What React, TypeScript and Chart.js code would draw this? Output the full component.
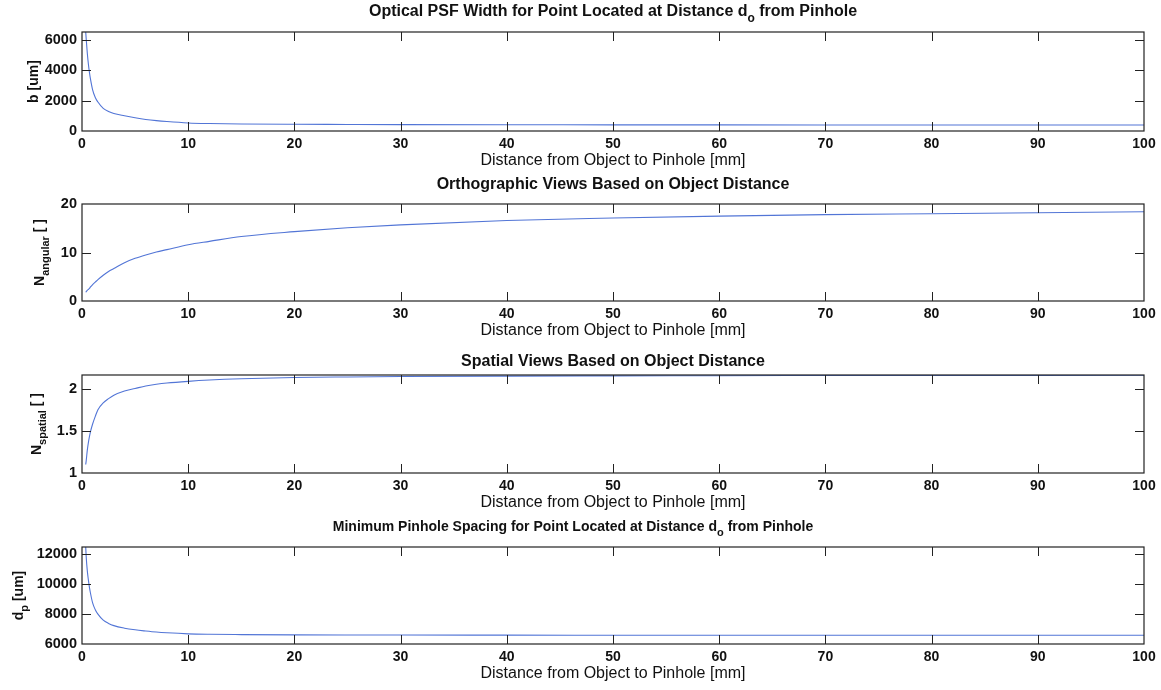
import React, { useEffect, useRef } from 'react';
import { Chart, registerables } from 'chart.js';
Chart.register(...registerables);

// ---- data ----
const distanceMm = [0.35, 0.4, 0.5, 0.6, 0.7, 0.8, 1, 1.25, 1.5, 2, 2.5, 3, 4, 5, 6, 7, 8, 10, 12, 15, 20, 25, 30, 40, 50, 60, 70, 80, 90, 100];
const psfWidthUm = [6500, 6000, 5100, 4400, 3850, 3400, 2700, 2200, 1900, 1480, 1280, 1150, 1000, 870, 760, 680, 620, 530, 490, 460, 440, 430, 420, 410, 405, 400, 398, 396, 394, 392];
const nAngular = [1.8, 1.95, 2.2, 2.4, 2.6, 2.9, 3.4, 3.9, 4.4, 5.3, 6.1, 6.7, 7.9, 8.8, 9.5, 10.1, 10.6, 11.6, 12.3, 13.3, 14.3, 15.1, 15.7, 16.6, 17.1, 17.5, 17.8, 18.0, 18.2, 18.4];
const nSpatial = [1.1, 1.15, 1.27, 1.36, 1.43, 1.49, 1.58, 1.67, 1.75, 1.83, 1.88, 1.92, 1.97, 2.0, 2.03, 2.05, 2.065, 2.085, 2.1, 2.115, 2.13, 2.137, 2.142, 2.147, 2.15, 2.152, 2.154, 2.155, 2.156, 2.157];
const pinholeSpacingUm = [12500, 11800, 10900, 10300, 9800, 9400, 8750, 8300, 8000, 7600, 7380, 7230, 7060, 6950, 6870, 6800, 6750, 6680, 6650, 6630, 6610, 6600, 6600, 6595, 6590, 6590, 6590, 6590, 6590, 6590];

const xTickValues = [0, 10, 20, 30, 40, 50, 60, 70, 80, 90, 100];
const psfTicks = [0, 2000, 4000, 6000];
const angularTicks = [0, 10, 20];
const spatialTicks = [1, 1.5, 2];
const spacingTicks = [6000, 8000, 10000, 12000];
const xLabel = 'Distance from Object to Pinhole [mm]';

type Seg = { t: string; sub?: boolean };

const titles: Seg[][] = [
  [{ t: 'Optical PSF Width for Point Located at Distance d' }, { t: 'o', sub: true }, { t: ' from Pinhole' }],
  [{ t: 'Orthographic Views Based on Object Distance' }],
  [{ t: 'Spatial Views Based on Object Distance' }],
  [{ t: 'Minimum Pinhole Spacing for Point Located at Distance d' }, { t: 'o', sub: true }, { t: ' from Pinhole' }],
];
const yLabels: Seg[][] = [
  [{ t: 'b [um]' }],
  [{ t: 'N' }, { t: 'angular', sub: true }, { t: ' [ ]' }],
  [{ t: 'N' }, { t: 'spatial', sub: true }, { t: ' [ ]' }],
  [{ t: 'd' }, { t: 'p', sub: true }, { t: ' [um]' }],
];
const seriesList = [psfWidthUm, nAngular, nSpatial, pinholeSpacingUm];
const yTickList = [psfTicks, angularTicks, spatialTicks, spacingTicks];
const yMins = [0, 0, 1, 6000];
const yMaxs = [6500, 20, 2.16, 12500];

// ---- layout ----
const W = 1161;
const plotLeft = 82;
const plotRight = 1144;
const plotTops = [32, 204, 375, 547];
const plotBottoms = [131, 301, 473, 644];
const titleOffsets = [20, 19, 13, 20];
const titleSizes = [16, 16, 16, 14];
const titleShiftX = [0, 0, 0, -40];
const yLabelX = [34, 40, 37, 19];
const TOPPAD = 30;
const XAXIS_H = 44;
const FONT = '"Liberation Sans", Arial, Helvetica, sans-serif';
const LINE_COLOR = '#5275d6';
const AXIS_COLOR = '#222222';

function drawRich(ctx: CanvasRenderingContext2D, segs: Seg[], cx: number, cy: number, size: number, weight: string) {
  const subSize = Math.round(size * 0.78);
  let total = 0;
  const widths = segs.map((s) => {
    ctx.font = `${weight} ${s.sub ? subSize : size}px ${FONT}`;
    const w = ctx.measureText(s.t).width;
    total += w;
    return w;
  });
  let x = cx - total / 2;
  ctx.textAlign = 'left';
  ctx.textBaseline = 'middle';
  segs.forEach((s, i) => {
    ctx.font = `${weight} ${s.sub ? subSize : size}px ${FONT}`;
    ctx.fillText(s.t, x, s.sub ? cy + size * 0.42 : cy);
    x += widths[i];
  });
}

const matlabPlugin = {
  id: 'matlabBox',
  afterDraw(chart: any, _args: any, opts: any) {
    const { ctx, chartArea } = chart;
    const { left, right, top, bottom } = chartArea;
    ctx.save();
    ctx.strokeStyle = AXIS_COLOR;
    ctx.lineWidth = 1.2;
    ctx.strokeRect(left, top, right - left, bottom - top);
    const tl = 9;
    ctx.lineWidth = 1;
    ctx.beginPath();
    const xs = chart.scales.x;
    xs.ticks.forEach((t: any) => {
      const px = Math.round(xs.getPixelForValue(t.value)) + 0.5;
      if (px <= left + 1 || px >= right - 1) return;
      ctx.moveTo(px, bottom);
      ctx.lineTo(px, bottom - tl);
      ctx.moveTo(px, top);
      ctx.lineTo(px, top + tl);
    });
    const ys = chart.scales.y;
    ys.ticks.forEach((t: any) => {
      const py = Math.round(ys.getPixelForValue(t.value)) + 0.5;
      if (py <= top + 1 || py >= bottom - 1) return;
      ctx.moveTo(left, py);
      ctx.lineTo(left + tl, py);
      ctx.moveTo(right, py);
      ctx.lineTo(right - tl, py);
    });
    ctx.stroke();

    ctx.fillStyle = '#111111';
    drawRich(ctx, opts.title, (left + right) / 2 + opts.titleShift, top - opts.titleOffset, opts.titleSize, 'bold');

    ctx.translate(opts.yLabelX, (top + bottom) / 2);
    ctx.rotate(-Math.PI / 2);
    drawRich(ctx, opts.yLabel, 0, 0, 14, 'bold');
    ctx.restore();
  },
};

function Panel({ idx }: { idx: number }) {
  const ref = useRef<HTMLCanvasElement | null>(null);
  const canvasTop = plotTops[idx] - TOPPAD;
  const canvasH = plotBottoms[idx] + XAXIS_H - canvasTop;
  useEffect(() => {
    if (!ref.current) return;
    const values = seriesList[idx];
    const yTicks = yTickList[idx];
    const chart = new Chart(ref.current, {
      type: 'line',
      data: {
        datasets: [
          {
            data: distanceMm.map((d, i) => ({ x: d, y: values[i] })),
            borderColor: LINE_COLOR,
            borderWidth: 1.1,
            pointRadius: 0,
            cubicInterpolationMode: 'monotone',
            fill: false,
          },
        ],
      },
      options: {
        responsive: false,
        animation: false,
        events: [],
        layout: { padding: { top: TOPPAD, right: W - plotRight, left: 0, bottom: 0 } },
        plugins: {
          legend: { display: false },
          tooltip: { enabled: false },
          title: { display: false },
          matlabBox: {
            title: titles[idx],
            yLabel: yLabels[idx],
            titleOffset: titleOffsets[idx],
            titleSize: titleSizes[idx],
            titleShift: titleShiftX[idx],
            yLabelX: yLabelX[idx],
          },
        } as any,
        scales: {
          x: {
            type: 'linear',
            min: xTickValues[0],
            max: xTickValues[xTickValues.length - 1],
            grid: { display: false, drawTicks: false },
            border: { display: false },
            afterBuildTicks: (s: any) => {
              s.ticks = xTickValues.map((v) => ({ value: v }));
            },
            ticks: {
              padding: 5,
              color: '#111111',
              font: { family: FONT, size: 14, weight: 'bold' },
              callback: (v: any) => String(v),
              maxRotation: 0,
              autoSkip: false,
            },
            title: {
              display: true,
              text: xLabel,
              color: '#111111',
              font: { family: FONT, size: 16 },
              padding: { top: 0, bottom: 5 },
            },
            afterFit: (s: any) => {
              s.height = XAXIS_H;
            },
          },
          y: {
            type: 'linear',
            min: yMins[idx],
            max: yMaxs[idx],
            grid: { display: false, drawTicks: false },
            border: { display: false },
            afterBuildTicks: (s: any) => {
              s.ticks = yTicks.map((v) => ({ value: v }));
            },
            ticks: {
              padding: 5,
              color: '#111111',
              font: { family: FONT, size: 14.5, weight: 'bold' },
              callback: (v: any) => String(v),
              autoSkip: false,
            },
            afterFit: (s: any) => {
              s.width = plotLeft;
            },
          },
        },
      },
      plugins: [matlabPlugin],
    });
    return () => chart.destroy();
  }, [idx]);
  return (
    <canvas
      ref={ref}
      width={W}
      height={canvasH}
      style={{ position: 'absolute', left: 0, top: canvasTop, width: W, height: canvasH }}
    />
  );
}

export default function App() {
  return (
    <div style={{ position: 'absolute', left: 0, top: 0, width: W, height: 690, background: '#ffffff', overflow: 'hidden' }}>
      {[0, 1, 2, 3].map((i) => (
        <Panel key={i} idx={i} />
      ))}
    </div>
  );
}
